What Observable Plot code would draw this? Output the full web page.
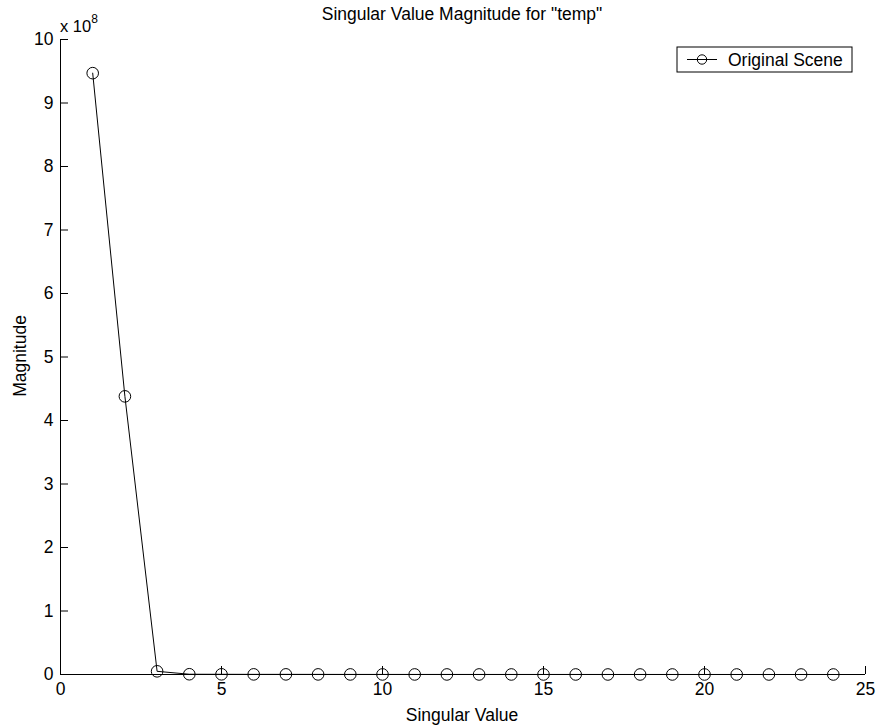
<!DOCTYPE html>
<html>
<head>
<meta charset="utf-8">
<script src="https://cdn.jsdelivr.net/npm/d3@7"></script>
<script src="https://cdn.jsdelivr.net/npm/@observablehq/plot@0.6"></script>
<style>
  body { margin: 0; background: #fff; }
  #chart svg { font-family: "Liberation Sans", Arial, Helvetica, sans-serif; }
</style>
</head>
<body>
<div id="chart"></div>
<script>
const singularIndex = [1,2,3,4,5,6,7,8,9,10,11,12,13,14,15,16,17,18,19,20,21,22,23,24];
const magnitude = [9.47e8, 4.38e8, 0.05e8, 0.004e8, 0.003e8, 0.002e8, 0.002e8, 0.0015e8, 0.0012e8, 0.001e8,
  0.0009e8, 0.0008e8, 0.0007e8, 0.0006e8, 0.0005e8, 0.0005e8, 0.0004e8, 0.0004e8, 0.0003e8, 0.0003e8,
  0.0002e8, 0.0002e8, 0.0001e8, 0.0001e8];
const xTicks = [0,5,10,15,20,25];
const yTicks = [0,1,2,3,4,5,6,7,8,9,10].map(v => v * 1e8);
const titleText = 'Singular Value Magnitude for "temp"';
const xLabel = "Singular Value";
const yLabel = "Magnitude";
const seriesName = "Original Scene";
const exponentLabel = "8";

const data = singularIndex.map((x, i) => ({x, y: magnitude[i]}));
const FS = 17.5;
const font = '"Liberation Sans", Arial, sans-serif';

const plot = Plot.plot({
  width: 879,
  height: 726,
  marginLeft: 60,
  marginRight: 14,
  marginTop: 39,
  marginBottom: 52,
  style: {fontSize: FS + "px", fontFamily: font, color: "#000", background: "#fff"},
  x: {domain: [0, 25]},
  y: {domain: [0, 10e8]},
  marks: [
    Plot.ruleY([0], {stroke: "#000", strokeWidth: 1}),
    Plot.ruleX([0], {stroke: "#000", strokeWidth: 1}),
    Plot.axisX({ticks: xTicks, tickSize: -8, tickPadding: 16, tickFormat: d => String(d), label: null, stroke: "#000", fill: "#000"}),
    Plot.axisY({ticks: yTicks, tickSize: -8, tickPadding: 15, tickFormat: d => String(Math.round(d / 1e8)), label: null, stroke: "#000", fill: "#000"}),
    Plot.line(data, {x: "x", y: "y", stroke: "#000", strokeWidth: 1}),
    Plot.dot(data, {x: "x", y: "y", r: 5.8, stroke: "#000", fill: "none", strokeWidth: 1})
  ]
});

document.getElementById("chart").appendChild(plot);

const svg = d3.select(plot);
svg.append("text").attr("x", 462).attr("y", 20).attr("text-anchor", "middle")
  .attr("font-size", FS).attr("font-family", font).attr("fill", "#000").text(titleText);
svg.append("text").attr("x", 462).attr("y", 721).attr("text-anchor", "middle")
  .attr("font-size", FS).attr("font-family", font).attr("fill", "#000").text(xLabel);
svg.append("text").attr("transform", "translate(26,356) rotate(-90)").attr("text-anchor", "middle")
  .attr("font-size", FS).attr("font-family", font).attr("fill", "#000").text(yLabel);
const ex = svg.append("text").attr("x", 60).attr("y", 31.5).attr("text-anchor", "start")
  .attr("font-size", FS - 1).attr("font-family", font).attr("fill", "#000");
ex.append("tspan").text("x 10");
ex.append("tspan").attr("dy", -9).attr("font-size", 12).text(exponentLabel);

const lg = svg.append("g").attr("transform", "translate(677,47)");
lg.append("rect").attr("width", 175).attr("height", 25).attr("fill", "#fff").attr("stroke", "#000");
lg.append("line").attr("x1", 10).attr("x2", 40).attr("y1", 12.5).attr("y2", 12.5).attr("stroke", "#000");
lg.append("circle").attr("cx", 25).attr("cy", 12.5).attr("r", 4.7).attr("fill", "none").attr("stroke", "#000");
lg.append("text").attr("x", 51).attr("y", 19).attr("text-anchor", "start").attr("font-size", FS).attr("font-family", font).attr("fill", "#000").text(seriesName);
</script>
</body>
</html>
